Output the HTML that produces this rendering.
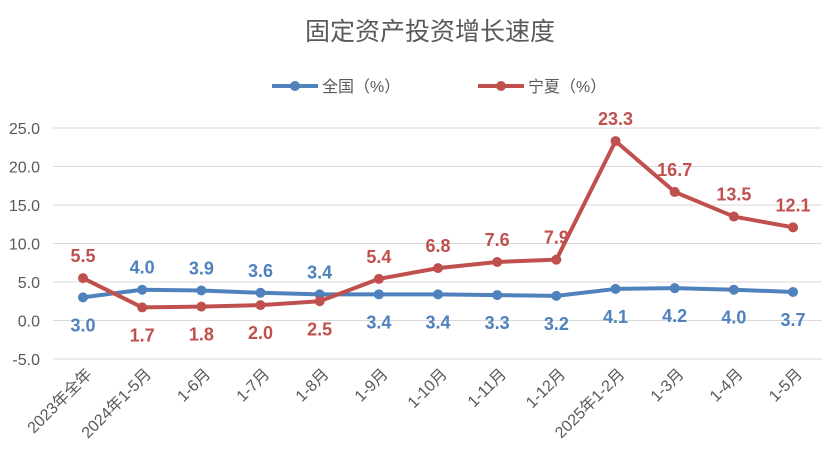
<!DOCTYPE html>
<html><head><meta charset="utf-8"><style>
body{margin:0;background:#fff;}
svg{display:block;font-family:"Liberation Sans","Noto Sans CJK SC",sans-serif;}
</style></head><body>
<svg id="chart" width="827" height="473">
<text x="430" y="40" text-anchor="middle" font-size="25" fill="#595959">固定资产投资增长速度</text>
<g>
<g>
<line x1="272" y1="86" x2="318" y2="86" stroke="#4f81bd" stroke-width="4"/>
<circle cx="295" cy="86" r="5" fill="#4f81bd"/>
<text x="322" y="92" font-size="16" fill="#595959">全国（%）</text></g>
<g>
<line x1="478" y1="86" x2="524" y2="86" stroke="#c0504d" stroke-width="4"/>
<circle cx="501" cy="86" r="5" fill="#c0504d"/>
<text x="528" y="92" font-size="16" fill="#595959">宁夏（%）</text></g>
</g>
<g id="grid"></g><g id="xl"></g><g id="series"></g>
</svg>
<script>
const categories=["2023年全年","2024年1-5月","1-6月","1-7月","1-8月","1-9月","1-10月","1-11月","1-12月","2025年1-2月","1-3月","1-4月","1-5月"];
const national=[3.0,4.0,3.9,3.6,3.4,3.4,3.4,3.3,3.2,4.1,4.2,4.0,3.7];
const ningxia=[5.5,1.7,1.8,2.0,2.5,5.4,6.8,7.6,7.9,23.3,16.7,13.5,12.1];
const yTicks=[-5,0,5,10,15,20,25];
const nationalAbove=[false,true,true,true,true,false,false,false,false,false,false,false,false];
const ningxiaAbove=[true,false,false,false,false,true,true,true,true,true,true,true,true];
const NS="http://www.w3.org/2000/svg";
const y=v=>320.5-v*7.7;
const x=i=>83+i*59.17;
function mk(t,a,p){const e=document.createElementNS(NS,t);for(const k in a)e.setAttribute(k,a[k]);p.appendChild(e);return e;}
const g=document.getElementById('grid');
yTicks.forEach(v=>{
 const l=mk('line',{x1:53,x2:822,y1:y(v),y2:y(v),stroke:'#d9d9d9','stroke-width':1},g);
 
 
 const t=mk('text',{x:40,y:y(v)+6,'text-anchor':'end','font-size':16,fill:'#595959'},g);
 t.textContent=v.toFixed(1);
 
 
});
const xl=document.getElementById('xl');
categories.forEach((c,i)=>{
 const ax=x(i)+10, ay=375;
 const t=mk('text',{x:ax,y:ay,'text-anchor':'end','font-size':16,fill:'#595959',transform:`rotate(-45 ${ax} ${ay})`},xl);
 t.textContent=c;
 
 
});
const s=document.getElementById('series');
function draw(vals,above,col,name){
 const p=mk('polyline',{points:vals.map((v,i)=>x(i)+','+y(v)).join(' '),fill:'none',stroke:col,'stroke-width':4,'stroke-linejoin':'round'},s);
 
 
 vals.forEach((v,i)=>{
  const c=mk('circle',{cx:x(i),cy:y(v),r:5,fill:col},s);
  
  
  const t=mk('text',{x:x(i),y:above[i]?y(v)-16:y(v)+34,'text-anchor':'middle','font-size':18,'font-weight':'bold',fill:col},s);
  t.textContent=v.toFixed(1);
  
  
 });
}
draw(national,nationalAbove,'#4f81bd','national');
draw(ningxia,ningxiaAbove,'#c0504d','ningxia');
</script>
</body></html>
